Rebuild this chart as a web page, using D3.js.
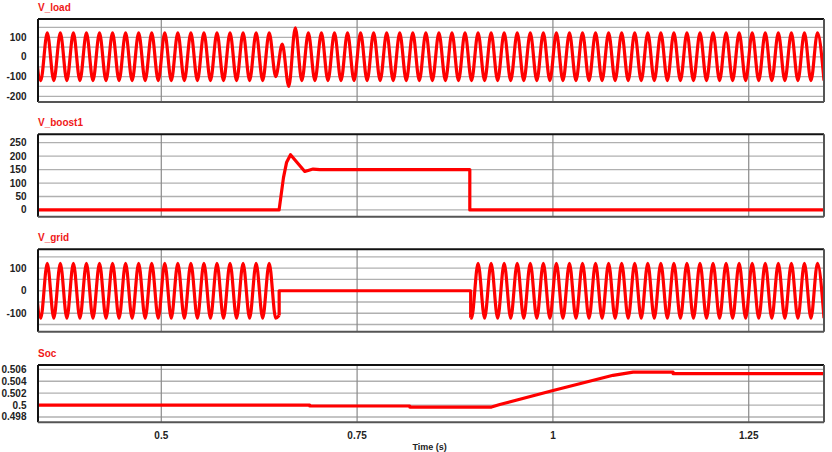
<!DOCTYPE html>
<html>
<head>
<meta charset="utf-8">
<script src="https://cdn.jsdelivr.net/npm/d3@7"></script>
<style>
  html, body { margin: 0; padding: 0; background: #fff; }
  svg { display: block; font-family: "Liberation Sans", Arial, sans-serif; }
</style>
</head>
<body>
<svg id="chart" width="832" height="452"></svg>
<script>
// time axis
const tDomain = [0.3426, 1.3461];
const xTicks = [0.5, 0.75, 1, 1.25];
const xTickLabels = ["0.5", "0.75", "1", "1.25"];

// 60 Hz waveforms: value at each successive peak / trough
const cycleStart = 0.33777;   // time of the first listed extremum
const halfCycle = 1 / 120;

const loadExtrema = [
  122,-120,122,-120,122,-120,122,-120,122,-120,
  122,-120,122,-120,122,-120,122,-120,122,-120,
  122,-120,122,-120,122,-120,122,-120,122,-120,
  122,-120,122,-120,122,-120,122,-100,65,-150,
  148,-120,122,-120,122,-120,122,-120,122,-120,
  122,-120,122,-120,122,-120,122,-120,122,-120,
  122,-120,122,-120,122,-120,122,-120,122,-120,
  122,-120,122,-120,122,-120,122,-120,122,-120,
  122,-120,122,-120,122,-120,122,-120,122,-120,
  122,-120,122,-120,122,-120,122,-120,122,-120,
  122,-120,122,-120,122,-120,122,-120,122,-120,
  122,-120,122,-120,122,-120,122,-120,122,-120,
  122,-120
];

// null = grid disconnected
const gridExtrema = [
  122,-122,122,-122,122,-122,122,-122,122,-122,
  122,-122,122,-122,122,-122,122,-122,122,-122,
  122,-122,122,-122,122,-122,122,-122,122,-122,
  122,-122,122,-122,122,-122,122,-122,null,null,
  null,null,null,null,null,null,null,null,null,null,
  null,null,null,null,null,null,null,null,null,null,
  null,null,null,null,null,null,null,-122,122,-122,
  122,-122,122,-122,122,-122,122,-122,122,-122,
  122,-122,122,-122,122,-122,122,-122,122,-122,
  122,-122,122,-122,122,-122,122,-122,122,-122,
  122,-122,122,-122,122,-122,122,-122,122,-122,
  122,-122,122,-122,122,-122,122,-122,122,-122,
  122,-122
];
const gridOpenTime = [0.6505, 0.6505, 0.8950, 0.8950];
const gridOpenValue = [-110, 0, 0, -120];

const boostTime  = [0.3426, 0.6504, 0.6560, 0.6599, 0.6650, 0.6832, 0.6938, 0.7024, 0.8939, 0.8939, 1.3461];
const boostValue = [0, 0, 120, 176, 205, 143, 152, 150, 150, 0, 0];

const socTime  = [0.3426, 0.6896, 0.6896, 0.8173, 0.8173, 0.9216, 0.9322, 1.0002, 1.0768, 1.1024, 1.1535, 1.1535, 1.3461];
const socValue = [0.5, 0.5, 0.49985, 0.49985, 0.49967, 0.49967, 0.5001, 0.50245, 0.505, 0.50553, 0.50553, 0.50528, 0.50528];

// y ticks / grid per panel
const loadTicks = [100, 0, -100, -200];
const loadGrid = [150, 100, 50, 0, -50, -100, -150, -200];
const boostTicks = [250, 200, 150, 100, 50, 0];
const gridTicks = [100, 0, -100];
const gridGrid = [150, 100, 50, 0, -50, -100, -150];
const socTicks = [0.506, 0.504, 0.502, 0.5, 0.498];
const socTickLabels = ["0.506", "0.504", "0.502", "0.5", "0.498"];

const svg = d3.select("#chart");
const left = 38, right = 824;
const red = "#ff0000";

const x = d3.scaleLinear().domain(tDomain).range([left, right]);

const panels = [
  { id: "load", title: "V_load", top: 19, bottom: 102, domain: [-229, 193],
    ticks: loadTicks, labels: loadTicks.map(String), grid: loadGrid },
  { id: "boost", title: "V_boost1", top: 134.3, bottom: 216.7, domain: [-25, 281],
    ticks: boostTicks, labels: boostTicks.map(String), grid: boostTicks },
  { id: "grid", title: "V_grid", top: 249.3, bottom: 331.7, domain: [-182, 184],
    ticks: gridTicks, labels: gridTicks.map(String), grid: gridGrid },
  { id: "soc", title: "Soc", top: 365, bottom: 422.3, domain: [0.49711, 0.50673],
    ticks: socTicks, labels: socTickLabels, grid: socTicks }
];

const pts = (ts, vs) => ts.map((t, i) => [t, vs[i]]);
const extremaPts = arr => arr.map((v, j) => [cycleStart + j * halfCycle, v]);

panels.forEach(p => {
  const y = d3.scaleLinear().domain(p.domain).range([p.bottom, p.top]);
  p.y = y;
  const g = svg.append("g");

  svg.append("defs").append("clipPath").attr("id", "clip-" + p.id)
    .append("rect").attr("x", left).attr("y", p.top)
    .attr("width", right - left).attr("height", p.bottom - p.top);

  // grid
  g.selectAll(".hg").data(p.grid).join("line")
    .attr("x1", left).attr("x2", right)
    .attr("y1", d => y(d)).attr("y2", d => y(d))
    .attr("stroke", "#b0b0b0").attr("stroke-width", 1.3);
  g.selectAll(".vg").data(xTicks).join("line")
    .attr("x1", d => x(d)).attr("x2", d => x(d))
    .attr("y1", p.top).attr("y2", p.bottom)
    .attr("stroke", "#8a8a8a").attr("stroke-width", 1.2);

  // y labels
  g.selectAll(".yl").data(p.ticks).join("text")
    .attr("x", 26.5).attr("y", d => y(d))
    .attr("dy", "0.35em").attr("text-anchor", "end")
    .attr("font-size", 10).attr("font-weight", "bold").attr("fill", "#222")
    .text((d, i) => p.labels[i]);

  // title
  g.append("text").attr("x", left).attr("y", p.top - 8.5)
    .attr("font-size", 10).attr("font-weight", "bold").attr("fill", "#f01818")
    .text(p.title);

  p.plot = svg.append("g").attr("clip-path", "url(#clip-" + p.id + ")");
});

function drawLine(p, data, curve) {
  const line = d3.line().x(d => x(d[0])).y(d => p.y(d[1])).curve(curve);
  p.plot.append("path").datum(data)
    .attr("d", line)
    .attr("fill", "none").attr("stroke", red)
    .attr("stroke-width", 3.2).attr("stroke-linejoin", "round");
}

// V_load
drawLine(panels[0], extremaPts(loadExtrema), d3.curveMonotoneX);

// V_boost1
drawLine(panels[1], pts(boostTime, boostValue), d3.curveLinear);

// V_grid: two sine runs joined by the open interval
const gridAll = extremaPts(gridExtrema);
const firstRun = gridAll.filter((d, j) => gridExtrema[j] !== null && d[0] < gridOpenTime[0]);
const secondRun = gridAll.filter((d, j) => gridExtrema[j] !== null && d[0] > gridOpenTime[3]);
const openPts = pts(gridOpenTime, gridOpenValue);
drawLine(panels[2], firstRun.concat([openPts[0]]), d3.curveMonotoneX);
drawLine(panels[2], openPts, d3.curveLinear);
drawLine(panels[2], [openPts[3]].concat(secondRun), d3.curveMonotoneX);

// Soc
drawLine(panels[3], pts(socTime, socValue), d3.curveLinear);

// frames on top
panels.forEach(p => {
  const g = svg.append("g");
  g.append("line").attr("x1", left).attr("x2", right).attr("y1", p.top).attr("y2", p.top)
    .attr("stroke", "#111").attr("stroke-width", 2);
  g.append("line").attr("x1", left).attr("x2", left).attr("y1", p.top).attr("y2", p.bottom)
    .attr("stroke", "#111").attr("stroke-width", 2);
  g.append("line").attr("x1", left).attr("x2", right).attr("y1", p.bottom).attr("y2", p.bottom)
    .attr("stroke", "#555").attr("stroke-width", 2);
  g.append("line").attr("x1", right).attr("x2", right).attr("y1", p.top).attr("y2", p.bottom)
    .attr("stroke", "#555").attr("stroke-width", 2);
});

// x axis labels
svg.selectAll(".xl").data(xTicks).join("text")
  .attr("x", d => x(d)).attr("y", 439)
  .attr("text-anchor", "middle")
  .attr("font-size", 10).attr("font-weight", "bold").attr("fill", "#222")
  .text((d, i) => xTickLabels[i]);

svg.append("text").attr("x", 412.5).attr("y", 450)
  .attr("font-size", 9).attr("font-weight", "bold").attr("fill", "#222")
  .text("Time (s)");
</script>
</body>
</html>
